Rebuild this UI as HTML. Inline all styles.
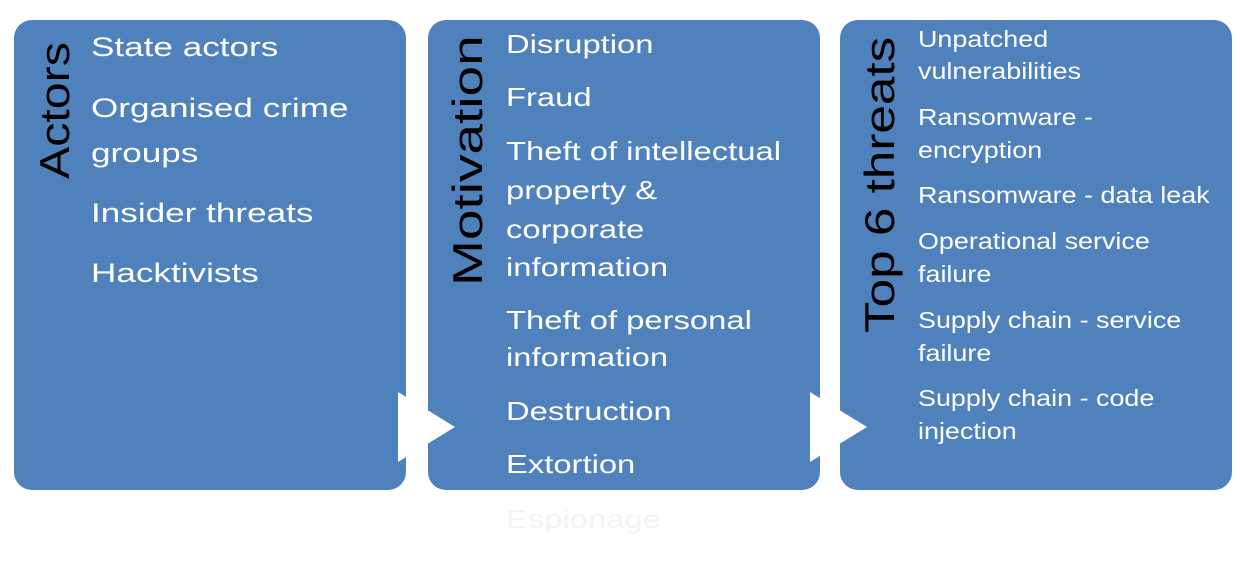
<!DOCTYPE html>
<html><head><style>
body{margin:0;width:1240px;height:562px;background:#fff;position:relative;overflow:hidden;font-family:"Liberation Sans",sans-serif}
.box{position:absolute;top:20px;width:392px;height:470px;background:#4f81bd;border-radius:18px}
.t{position:absolute;line-height:0;color:#fff;white-space:nowrap;transform-origin:0 0}
.b1{font-size:27px;transform:scaleX(1.3)}.b2{font-size:26px;transform:scaleX(1.26)}.b3{font-size:23px;transform:scaleX(1.17)}
.rot{position:absolute;color:#000;font-size:42px;white-space:nowrap;transform-origin:0 0;line-height:1}
</style></head><body>
<div class="box" style="left:14px"></div>
<div class="box" style="left:428px"></div>
<div class="box" style="left:840px"></div>
<svg style="position:absolute;left:0;top:0" width="1240" height="562">
<polygon points="398,392 455,427 398,462" fill="#fff"/>
<polygon points="810,392 867,427 810,462" fill="#fff"/>
</svg>
<div class="rot" style="left:34px;top:179px;transform:rotate(-90deg) scaleX(1.15)">Actors</div>
<div class="rot" style="left:447px;top:286px;transform:rotate(-90deg) scaleX(1.31)">Motivation</div>
<div class="rot" style="left:859px;top:333px;transform:rotate(-90deg) scaleX(1.22)">Top 6 threats</div>

<div class="t b1" style="left:91px;top:47px">State actors</div>
<div class="t b1" style="left:91px;top:108px">Organised crime</div>
<div class="t b1" style="left:91px;top:153px">groups</div>
<div class="t b1" style="left:91px;top:213px">Insider threats</div>
<div class="t b1" style="left:91px;top:273px">Hacktivists</div>

<div class="t b2" style="left:506px;top:44px">Disruption</div>
<div class="t b2" style="left:506px;top:97px">Fraud</div>
<div class="t b2" style="left:506px;top:151px">Theft of intellectual</div>
<div class="t b2" style="left:506px;top:190px">property &amp;</div>
<div class="t b2" style="left:506px;top:229px">corporate</div>
<div class="t b2" style="left:506px;top:267px">information</div>
<div class="t b2" style="left:506px;top:320px">Theft of personal</div>
<div class="t b2" style="left:506px;top:357px">information</div>
<div class="t b2" style="left:506px;top:411px">Destruction</div>
<div class="t b2" style="left:506px;top:464px">Extortion</div>
<div class="t b2" style="left:506px;top:519px;color:#f3f3f3">Espionage</div>

<div class="t b3" style="left:918px;top:39px">Unpatched</div>
<div class="t b3" style="left:918px;top:71px">vulnerabilities</div>
<div class="t b3" style="left:918px;top:117px">Ransomware -</div>
<div class="t b3" style="left:918px;top:150px">encryption</div>
<div class="t b3" style="left:918px;top:195px">Ransomware - data leak</div>
<div class="t b3" style="left:918px;top:241px">Operational service</div>
<div class="t b3" style="left:918px;top:274px">failure</div>
<div class="t b3" style="left:918px;top:320px">Supply chain - service</div>
<div class="t b3" style="left:918px;top:353px">failure</div>
<div class="t b3" style="left:918px;top:398px">Supply chain - code</div>
<div class="t b3" style="left:918px;top:431px">injection</div>
</body></html>
